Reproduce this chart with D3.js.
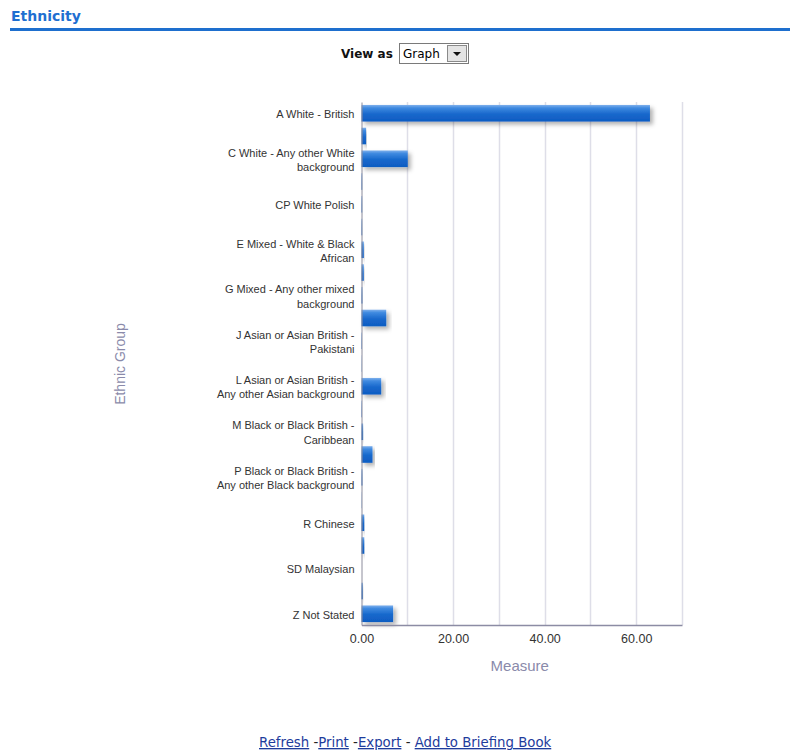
<!DOCTYPE html>
<html>
<head>
<meta charset="utf-8">
<script src="https://cdn.jsdelivr.net/npm/d3@7"></script>
<style>
  body { margin: 0; background: #fff; }
  svg text { font-family: "Liberation Sans", Arial, sans-serif; }
</style>
</head>
<body>
<svg id="chart" width="790" height="751"></svg>
<script>
// data
var categories = [
  "A White - British", "B White - Irish", "C White - Any other White background",
  "CK White Kurdish", "CP White Polish", "D Mixed - White & Black Caribbean",
  "E Mixed - White & Black African", "F Mixed - White & Asian", "G Mixed - Any other mixed background",
  "H Asian or Asian British - Indian", "J Asian or Asian British - Pakistani",
  "K Asian or Asian British - Bangladeshi", "L Asian or Asian British - Any other Asian background",
  "LF Filipino", "M Black or Black British - Caribbean", "N Black or Black British - African",
  "P Black or Black British - Any other Black background", "PA Somali", "R Chinese",
  "S Any other ethnic group", "SD Malaysian", "SE Arab", "Z Not Stated"
];
var values = [63.0, 1.0, 10.1, 0.15, 0.15, 0.15, 0.5, 0.5, 0.2, 5.4, 0.1, 0.05, 4.3,
  0.1, 0.35, 2.4, 0.2, 0.05, 0.6, 0.6, 0.0, 0.3, 6.9];
var xTicks = [0, 20, 40, 60];

var svg = d3.select('#chart');
var margin = {top: 102, bottom: 126, left: 361.5, right: 108};
var width = 790, height = 751;

// header
svg.append('text').attr('x', 11).attr('y', 21)
  .style('font-family', '"DejaVu Sans", sans-serif').style('font-weight', 'bold')
  .style('font-size', '14px').attr('fill', '#1f6fd1').text('Ethnicity');
svg.append('rect').attr('x', 10).attr('y', 28).attr('width', 780).attr('height', 3).attr('fill', '#1e6fce');

svg.append('text').attr('x', 341).attr('y', 58)
  .style('font-family', '"DejaVu Sans", sans-serif').style('font-weight', 'bold')
  .style('font-size', '12px').attr('fill', '#111').text('View as');
var sel = svg.append('g').attr('transform', 'translate(399,43)');
sel.append('rect').attr('x', 0.5).attr('y', 0.5).attr('width', 69).attr('height', 20)
  .attr('fill', '#fff').attr('stroke', '#7a7a7a');
sel.append('text').attr('x', 4).attr('y', 15).style('font-family', '"DejaVu Sans", sans-serif')
  .style('font-size', '12px').attr('fill', '#000').text('Graph');
sel.append('rect').attr('x', 48.5).attr('y', 2.5).attr('width', 19).attr('height', 16)
  .attr('fill', '#e4e4e4').attr('stroke', '#8a8a8a');
sel.append('path').attr('d', 'M54,9 L62,9 L58,13 Z').attr('fill', '#111');

// scales
var xScale = d3.scaleLinear().domain([0, 70]).range([margin.left, width - margin.right]);
var yScale = d3.scaleBand().domain(categories)
  .range([margin.top, height - margin.bottom]).paddingInner(0.27).paddingOuter(0.13);

var defs = svg.append('defs');
var grad = defs.append('linearGradient').attr('id', 'barGrad')
  .attr('x1', 0).attr('y1', 0).attr('x2', 0).attr('y2', 1);
grad.append('stop').attr('offset', '0%').attr('stop-color', '#7fb0ec');
grad.append('stop').attr('offset', '18%').attr('stop-color', '#3f8ae0');
grad.append('stop').attr('offset', '55%').attr('stop-color', '#1868cc');
grad.append('stop').attr('offset', '100%').attr('stop-color', '#0e5cc2');
var shadow = defs.append('filter').attr('id', 'shadow')
  .attr('x', '-10%').attr('y', '-30%').attr('width', '130%').attr('height', '180%');
shadow.append('feDropShadow').attr('dx', 3).attr('dy', 3).attr('stdDeviation', 2)
  .attr('flood-color', '#000').attr('flood-opacity', 0.3);

// gridlines
svg.append('g').selectAll('line')
  .data(d3.range(10, 71, 10))
  .enter().append('line')
  .attr('x1', d => Math.round(xScale(d)) + 0.5).attr('x2', d => Math.round(xScale(d)) + 0.5)
  .attr('y1', margin.top).attr('y2', height - margin.bottom)
  .attr('stroke', '#dedee8').attr('stroke-width', 1.5);

// bars
svg.append('g').selectAll('rect')
  .data(values)
  .enter().append('rect')
  .attr('x', xScale(0))
  .attr('y', (d, i) => yScale(categories[i]))
  .attr('height', yScale.bandwidth())
  .attr('width', d => Math.max(0, xScale(d) - xScale(0)))
  .attr('fill', 'url(#barGrad)')
  .attr('filter', 'url(#shadow)');

// axes
var yAxis = d3.axisLeft(yScale).tickSize(0).tickPadding(7)
  .tickFormat((d, i) => i % 2 === 0 ? d : '');
var gy = svg.append('g').attr('transform', 'translate(' + [margin.left, 0] + ')').call(yAxis);
gy.select('.domain').attr('stroke', '#8c8c9c');
gy.selectAll('text').style('font-size', '11px').attr('fill', '#333').each(function(d) {
  var t = d3.select(this);
  var txt = t.text();
  if (!txt) return;
  // wrap at about 26 characters
  var words = txt.split(' '), lines = [], cur = '';
  words.forEach(w => {
    var next = cur ? cur + ' ' + w : w;
    if (next.length > 26 && cur) { lines.push(cur); cur = w; } else { cur = next; }
  });
  lines.push(cur);
  t.text(null).attr('dy', null);
  var lh = 14.5;
  lines.forEach((l, k) => {
    t.append('tspan').attr('x', -7)
      .attr('dy', k === 0 ? (-(lines.length - 1) * lh / 2 + 5) + 'px' : lh + 'px').text(l);
  });
});

var xAxis = d3.axisBottom(xScale).tickValues(xTicks).tickSize(0).tickPadding(9)
  .tickFormat(d3.format('.2f'));
var gx = svg.append('g').attr('transform', 'translate(' + [0, height - margin.bottom] + ')').call(xAxis);
gx.select('.domain').attr('stroke', '#8c8ca4').attr('stroke-width', 1.5);
gx.selectAll('text').style('font-size', '12.5px').attr('fill', '#333');

// axis titles
svg.append('text').attr('x', (xScale(0) + xScale(70)) / 2 - 2).attr('y', 671)
  .attr('text-anchor', 'middle').style('font-size', '15px').attr('fill', '#8a8aaa').text('Measure');
svg.append('text').attr('transform', 'translate(125,' + 364 + ') rotate(-90)')
  .attr('text-anchor', 'middle').style('font-size', '14px').attr('fill', '#8a8aaa').text('Ethnic Group');

// footer links
var foot = svg.append('text').attr('x', 259).attr('y', 747)
  .style('font-family', '"DejaVu Sans", sans-serif').style('font-size', '13.3px').attr('fill', '#1e3c9c');
[['Refresh', true], [' -', false], ['Print', true], [' -', false], ['Export', true], [' - ', false], ['Add to Briefing Book', true]]
  .forEach(p => {
    foot.append('tspan').text(p[0]).attr('fill', p[1] ? '#1e3c9c' : '#222')
      .style('white-space', 'pre').attr('xml:space', 'preserve')
      .style('text-decoration', p[1] ? 'underline' : 'none');
  });
</script>
</body>
</html>
